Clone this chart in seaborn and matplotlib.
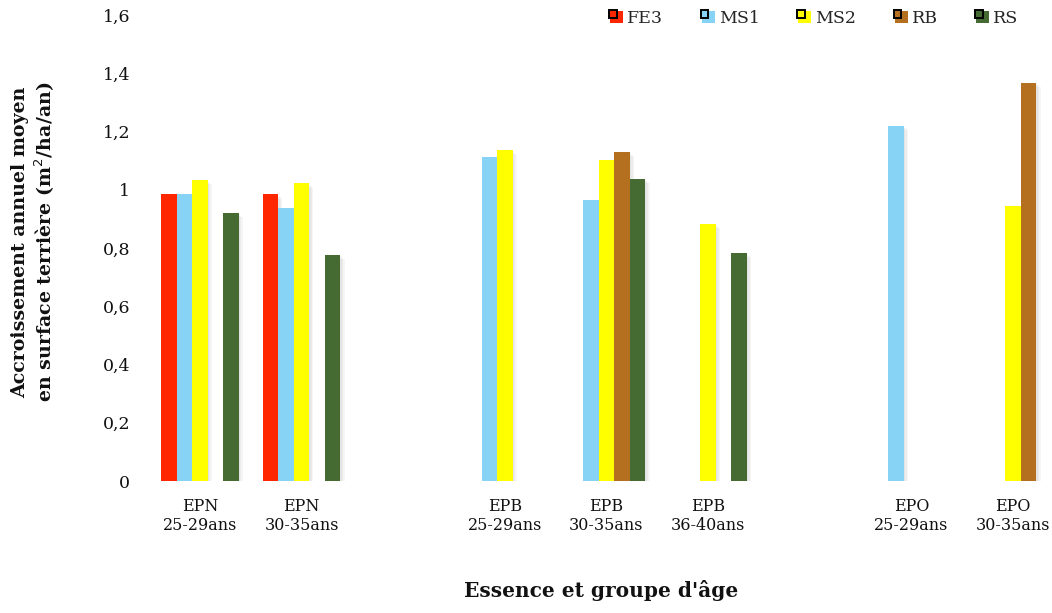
import numpy as np
import pandas as pd
import matplotlib
matplotlib.use("Agg")
import matplotlib.pyplot as plt
import matplotlib.patheffects as pe
from matplotlib.legend_handler import HandlerBase
from matplotlib.patches import Rectangle, Patch
import seaborn as sns

# Categories along x (blank slots separate the three species)
categories = ["EPN\n25-29ans", "EPN\n30-35ans", " ",
              "EPB\n25-29ans", "EPB\n30-35ans", "EPB\n36-40ans", "  ",
              "EPO\n25-29ans", "EPO\n30-35ans"]
series = ["FE3", "MS1", "MS2", "RB", "RS"]

nan = np.nan
fe3 = [0.984, 0.984, nan, nan, nan, nan, nan, nan, nan]
ms1 = [0.985, 0.937, nan, 1.112, 0.964, nan, nan, 1.220, nan]
ms2 = [1.033, 1.022, nan, 1.136, 1.102, 0.883, nan, nan, 0.945]
rb = [nan, nan, nan, nan, 1.130, nan, nan, nan, 1.368]
rs = [0.920, 0.776, nan, nan, 1.036, 0.782, nan, nan, nan]

colors = ["#FF2600", "#87D3F5", "#FFFF00", "#B4701E", "#466B32"]
yticks = [0, 0.2, 0.4, 0.6, 0.8, 1.0, 1.2, 1.4, 1.6]
ytick_labels = ["0", "0,2", "0,4", "0,6", "0,8", "1", "1,2", "1,4", "1,6"]

rows = []
for name, vals in zip(series, [fe3, ms1, ms2, rb, rs]):
    for cat, v in zip(categories, vals):
        if not np.isnan(v):
            rows.append({"cat": cat, "serie": name, "val": v})
df = pd.DataFrame(rows)

sns.set_theme(style="white")
plt.rcParams["font.family"] = ["DejaVu Serif"]

fig = plt.figure(figsize=(10.52, 6.13), dpi=100)
ax = fig.add_axes([149 / 1052, 132 / 613, 915 / 1052, 466 / 613])

sns.barplot(data=df, x="cat", y="val", hue="serie", order=categories,
            hue_order=series, palette=colors, width=0.765, saturation=1,
            errorbar=None, ax=ax, legend=False, linewidth=0)

# soft drop shadow on every bar
shadow = [pe.SimplePatchShadow(offset=(o, -o), shadow_rgbFace="#999999", alpha=0.09)
          for o in (3, 2, 1)]
for p in ax.patches:
    p.set_path_effects(shadow + [pe.Normal()])

ax.set_ylim(0, 1.6)
ax.set_xlim(-0.5, len(categories) - 0.5)
ax.set_yticks(yticks)
ax.set_yticklabels(ytick_labels)
ax.tick_params(axis="y", length=0, pad=13.5, labelsize=12.5, labelcolor="#111111")
ax.tick_params(axis="x", length=0, pad=12.5, labelsize=11.5, labelcolor="#111111")
for lab in ax.get_xticklabels():
    lab.set_linespacing(1.15)
for s in ax.spines.values():
    s.set_visible(False)
ax.grid(False)

ax.set_xlabel("Essence et groupe d'âge", fontsize=14.5, fontweight="bold",
              color="#111111")
ax.xaxis.set_label_coords(0.494, -0.212)
ax.set_ylabel("Accroissement annuel moyen\nen surface terrière (m$^{2}$/ha/an)",
              fontsize=13.7, fontweight="bold", color="#111111", linespacing=1.2)
ax.yaxis.set_label_coords(-0.1005, 0.513)


class SquareKey(HandlerBase):
    def create_artists(self, legend, orig_handle, xdescent, ydescent,
                       width, height, fontsize, trans):
        a = height * 1.0
        x0 = -xdescent + (width - a)
        y0 = -ydescent + (height - a) / 2
        big = Rectangle((x0, y0), a, a, facecolor=orig_handle.get_facecolor(),
                        edgecolor="none", transform=trans)
        b = a * 0.6
        small = Rectangle((x0 - a * 0.1, y0 + a - b + a * 0.05), b, b,
                          facecolor=orig_handle.get_facecolor(),
                          edgecolor="black", linewidth=1.4, transform=trans)
        return [big, small]


handles = [Patch(facecolor=c) for c in colors]
fig.legend(handles, series, loc="upper left", bbox_to_anchor=(603 / 1052, 0.995),
           ncol=5, frameon=False, fontsize=12.5, handler_map={Patch: SquareKey()},
           handlelength=0.75, handleheight=0.75, handletextpad=0.25,
           columnspacing=2.2, borderaxespad=0)

fig.savefig("out.png", dpi=100)
